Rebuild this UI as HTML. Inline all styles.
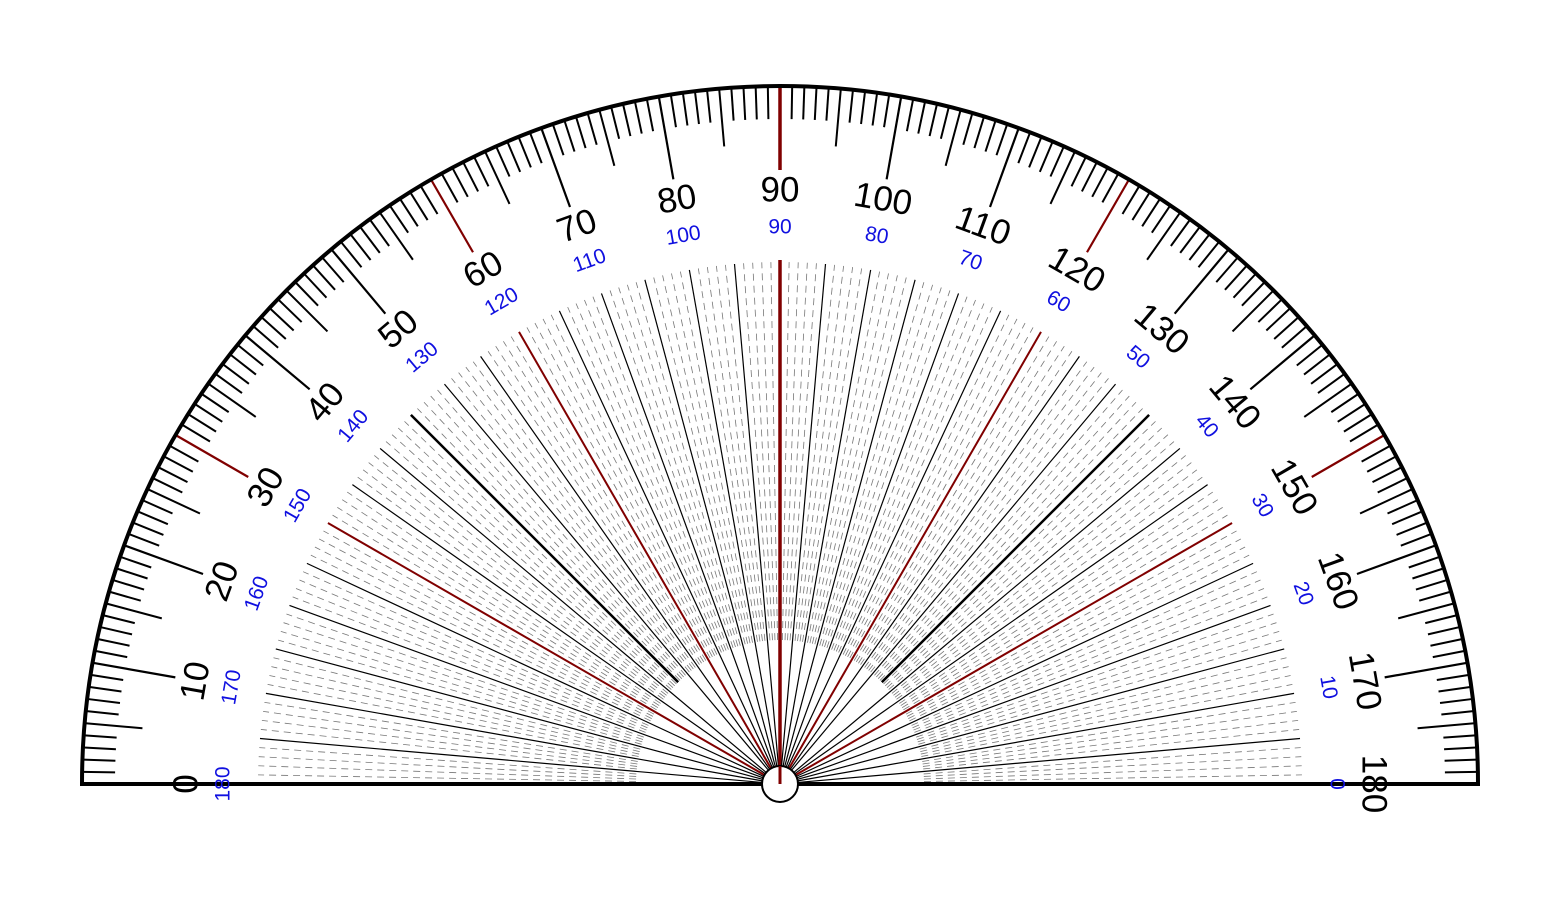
<!DOCTYPE html>
<html><head><meta charset="utf-8"><style>html,body{margin:0;padding:0;background:#fff}svg{display:block}</style></head>
<body>
<svg id="s" width="1560" height="900" viewBox="0 0 1560 900" xmlns="http://www.w3.org/2000/svg">
<g id="lines"></g>
<path d="M82 784 A698 698 0 0 1 1478 784 Z" fill="none" stroke="#000" stroke-width="4"/>
<circle cx="780" cy="784" r="18" fill="#fff" stroke="#000" stroke-width="2"/>
<line x1="780" y1="766" x2="780" y2="784" stroke="#800000" stroke-width="3"/>
<g font-family="Liberation Sans, Arial, sans-serif" font-size="35" fill="#000" text-anchor="middle" dominant-baseline="central">
<text transform="translate(186,784) rotate(-90)">0</text>
<text transform="translate(195,681) rotate(-80)">10</text>
<text transform="translate(221.8,581) rotate(-70)">20</text>
<text transform="translate(265.6,487) rotate(-60)">30</text>
<text transform="translate(325,402.2) rotate(-50)">40</text>
<text transform="translate(398.2,329) rotate(-40)">50</text>
<text transform="translate(483,269.6) rotate(-30)">60</text>
<text transform="translate(576.9,225.8) rotate(-20)">70</text>
<text transform="translate(676.9,199) rotate(-10)">80</text>
<text transform="translate(780,190)">90</text>
<text transform="translate(883.1,199) rotate(10)">100</text>
<text transform="translate(983.1,225.8) rotate(20)">110</text>
<text transform="translate(1077,269.6) rotate(30)">120</text>
<text transform="translate(1161.8,329) rotate(40)">130</text>
<text transform="translate(1235,402.2) rotate(50)">140</text>
<text transform="translate(1294.4,487) rotate(60)">150</text>
<text transform="translate(1338.2,581) rotate(70)">160</text>
<text transform="translate(1365,681) rotate(80)">170</text>
<text transform="translate(1374,784) rotate(90)">180</text>
</g>
<g font-family="Liberation Sans, Arial, sans-serif" font-size="21" fill="#1010e0" text-anchor="middle" dominant-baseline="central">
<text transform="translate(223,784) rotate(-90)">180</text>
<text transform="translate(231.5,687.3) rotate(-80)">170</text>
<text transform="translate(256.6,593.5) rotate(-70)">160</text>
<text transform="translate(297.6,505.5) rotate(-60)">150</text>
<text transform="translate(353.3,426) rotate(-50)">140</text>
<text transform="translate(422,357.3) rotate(-40)">130</text>
<text transform="translate(501.5,301.6) rotate(-30)">120</text>
<text transform="translate(589.5,260.6) rotate(-20)">110</text>
<text transform="translate(683.3,235.5) rotate(-10)">100</text>
<text transform="translate(780,227)">90</text>
<text transform="translate(876.7,235.5) rotate(10)">80</text>
<text transform="translate(970.5,260.6) rotate(20)">70</text>
<text transform="translate(1058.5,301.6) rotate(30)">60</text>
<text transform="translate(1138,357.3) rotate(40)">50</text>
<text transform="translate(1206.7,426) rotate(50)">40</text>
<text transform="translate(1262.4,505.5) rotate(60)">30</text>
<text transform="translate(1303.4,593.5) rotate(70)">20</text>
<text transform="translate(1328.5,687.3) rotate(80)">10</text>
<text transform="translate(1337,784) rotate(90)">0</text>
</g>
</svg>
<script>
(function(){
var g=document.getElementById('lines'),cx=780,cy=784,out='';
function L(a,r1,r2,col,w,dash){var t=a*Math.PI/180,c=Math.cos(t),s=Math.sin(t);
out+='<line x1="'+(cx-r1*c).toFixed(2)+'" y1="'+(cy-r1*s).toFixed(2)+'" x2="'+(cx-r2*c).toFixed(2)+'" y2="'+(cy-r2*s).toFixed(2)+'" stroke="'+col+'" stroke-width="'+w+'"'+(dash?' stroke-dasharray="'+dash+'"':'')+'/>';}
for(var a=1;a<180;a++){if(a%5===0)continue;L(a,144,522,'#777',0.8,'7 5');}
for(var a=5;a<180;a+=5){var red=(a%30===0);var col=red?'#800000':'#000';
 if(a===90){L(a,0,524,'#800000',3.5);continue;}
 if(a%10===0){L(a,18,522,col,red?2:1.2);}
 else{L(a,(a===45||a===135)?144:18,522,'#000',(a===45||a===135)?2.5:1.2);}
}
for(var a=0;a<=180;a++){var r2,w=2,col='#000';
 if(a%10===0){r2=614;w=2.2;if(a%30===0&&a!==0&&a!==180)col='#800000';if(a===90)w=3.5;}
 else if(a%5===0){r2=640;}
 else r2=665;
 L(a,697,r2,col,w);}
g.innerHTML=out;
})();
</script>
</body></html>
